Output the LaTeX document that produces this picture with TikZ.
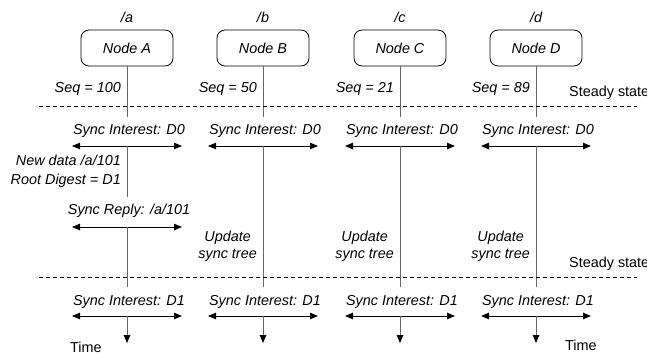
\documentclass[tikz,border=0pt]{standalone}
\usepackage{fontspec}
\setmainfont{Liberation Sans}
\usetikzlibrary{arrows.meta}
\begin{document}
\begin{tikzpicture}[x=1pt,y=-1pt,
  txt/.style={font=\fontsize{14.4}{17}\selectfont\itshape, inner sep=0pt},
  uptxt/.style={font=\fontsize{14.4}{17}\selectfont, inner sep=0pt},
  nodebox/.style={draw, rounded corners=8pt, minimum width=92pt, minimum height=36pt, line width=0.8pt, inner sep=0pt, font=\fontsize{14.4}{17}\selectfont\itshape},
  life/.style={draw=black!60, line width=0.9pt},
  msg/.style={{Triangle[length=8pt,width=6.5pt]}-{Triangle[length=8pt,width=6.5pt]}, line width=0.9pt},
  timearrow/.style={draw=black!60, line width=0.9pt, -{Triangle[length=8pt,width=6.5pt,fill=black,color=black]}},
  sepline/.style={dash pattern=on 4pt off 3pt, line width=0.7pt}]
\useasboundingbox (0,0) rectangle (647,354);

\foreach \n/\x/\s/\lab in {A/127/100/a, B/263/50/b, C/400/21/c, D/536/89/d}{
  \node[txt] (lab\n) at (\x,17) {/\lab};
  \node[nodebox] (box\n) at (\x,48) {Node \n};
  \node[txt, anchor=east] (seq\n) at (\x-6,89) {Seq = \s};
  \coordinate (t1\n) at (\x,117);
  \draw[life] (box\n.south) -- (t1\n);
  \node[txt] (si0\n) at (\x+2,131) {Sync Interest: D0};
  \coordinate (m0\n) at (\x,146);
  \coordinate (m0L\n) at (\x-55,146);
  \coordinate (m0R\n) at (\x+55,146);
  \draw[msg] (m0L\n) -- (m0R\n);
  \coordinate (t2\n) at (\x,287);
  \node[txt] (si1\n) at (\x+2,302) {Sync Interest: D1};
  \coordinate (m1\n) at (\x,316);
  \coordinate (m1L\n) at (\x-55,316);
  \coordinate (m1R\n) at (\x+55,316);
  \coordinate (end\n) at (\x,343);
  \draw[msg] (m1L\n) -- (m1R\n);
  \draw[timearrow] (m1\n) -- (end\n);
}

% Node A specific
\node[txt, anchor=east, align=right] (newdata) at (121,171.5) {New data /a/101\\[2pt]Root Digest = D1};
\coordinate (a2) at (127,197);
\draw[life] (m0A) -- (a2);
\node[txt] (reply) at (129,211) {Sync Reply: /a/101};
\coordinate (mrA) at (127,227);
\coordinate (mrL) at (72,227);
\coordinate (mrR) at (182,227);
\draw[msg] (mrL) -- (mrR);
\draw[life] (mrA) -- (t2A);

% Nodes B, C, D
\foreach \n/\x in {B/263, C/400, D/536}{
  \draw[life] (m0\n) -- (t2\n);
  \node[txt, anchor=east, align=center] (upd\n) at (\x-6,246.5) {Update\\sync tree};
}

% separators
\coordinate (s1L) at (39,106);
\coordinate (s1R) at (637,106);
\draw[sepline] (s1L) -- (s1R);
\coordinate (s2L) at (39,277);
\coordinate (s2R) at (637,277);
\draw[sepline] (s2L) -- (s2R);
\node[uptxt, anchor=west] (ss1) at (569,93) {Steady state};
\node[uptxt, anchor=west] (ss2) at (569,264) {Steady state};

\node[uptxt, anchor=west] (time1) at (70,347) {Time};
\node[uptxt, anchor=west] (time2) at (565,345) {Time};
\end{tikzpicture}
\end{document}
